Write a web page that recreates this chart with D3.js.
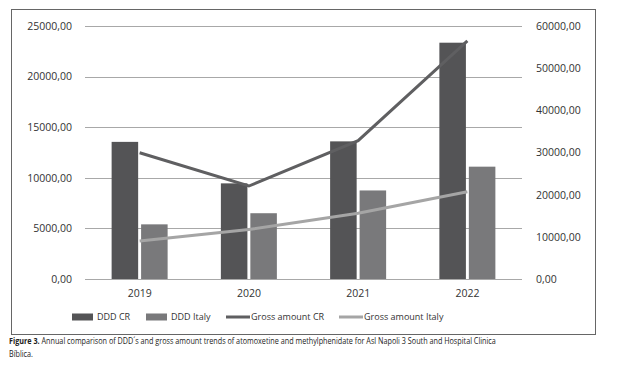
<!DOCTYPE html>
<html>
<head>
<meta charset="utf-8">
<script src="https://cdn.jsdelivr.net/npm/d3@7"></script>
<style>
  body { margin: 0; background: #fff; }
  text { font-family: "Open Sans", "DejaVu Sans", sans-serif; fill: #333; }
</style>
</head>
<body>
<svg width="619" height="370"></svg>
<script>
var years = ["2019", "2020", "2021", "2022"];
var dddCR = [13550, 9450, 13600, 23350];
var dddItaly = [5400, 6500, 8750, 11100];
var grossCR = [29950, 22050, 32800, 56450];
var grossItaly = [9000, 11750, 15600, 20700];
var leftTicks = [0, 5000, 10000, 15000, 20000, 25000];
var rightTicks = [0, 10000, 20000, 30000, 40000, 50000, 60000];

var svg = d3.select("svg"),
    margin = {top: 26, left: 85, right: 97, bottom: 91},
    width = 619 - margin.left - margin.right,
    height = 370 - margin.top - margin.bottom;

var fmt = function(d) { return d3.format(".2f")(d).replace(".", ","); };

// frame
svg.append("rect")
    .attr("x", 11.5).attr("y", 9.5)
    .attr("width", 584).attr("height", 325)
    .attr("fill", "none")
    .attr("stroke", "#666")
    .attr("stroke-width", 1);

var g = svg.append("g")
    .attr("transform", "translate(" + margin.left + "," + margin.top + ")");

var x = d3.scaleBand().domain(years).range([0, width]);
var x1 = d3.scaleBand().domain(["cr", "it"]).range([0, 56]).paddingInner(0.1);
var yL = d3.scaleLinear().domain([0, 25000]).range([height, 0]);
var yR = d3.scaleLinear().domain([0, 60000]).range([height, 0]);

// grid lines
g.append("g")
  .selectAll("line")
  .data(leftTicks)
  .enter().append("line")
    .attr("x1", 0).attr("x2", width)
    .attr("y1", function(d) { return Math.round(yL(d)) + 0.5; })
    .attr("y2", function(d) { return Math.round(yL(d)) + 0.5; })
    .attr("stroke", "#a8a8a8")
    .attr("stroke-width", 1);

// left axis
var axL = g.append("g")
    .attr("transform", "translate(-10,0)")
    .call(d3.axisLeft(yL).tickValues(leftTicks).tickFormat(fmt).tickSize(0));
axL.select(".domain").remove();
axL.selectAll("text").style("font-size", "10.5px").style("fill", "#333");

// right axis
var axR = g.append("g")
    .attr("transform", "translate(" + (width + 11) + ",0)")
    .call(d3.axisRight(yR).tickValues(rightTicks).tickFormat(fmt).tickSize(0));
axR.select(".domain").remove();
axR.selectAll("text").style("font-size", "10.5px").style("fill", "#333");

// x axis
var axX = g.append("g")
    .attr("transform", "translate(0," + (height + 8) + ")")
    .call(d3.axisBottom(x).tickSize(0));
axX.select(".domain").remove();
axX.selectAll("text").style("font-size", "10.5px").style("fill", "#333");

// bars
var groups = g.selectAll(".grp")
    .data(years)
    .enter().append("g")
    .attr("class", "grp")
    .attr("transform", function(d) { return "translate(" + (x(d) + x.bandwidth() / 2 - 28) + ",0)"; });

groups.append("rect")
    .attr("x", x1("cr"))
    .attr("width", x1.bandwidth())
    .attr("y", function(d, i) { return yL(dddCR[i]); })
    .attr("height", function(d, i) { return height - yL(dddCR[i]); })
    .attr("fill", "#545456");

groups.append("rect")
    .attr("x", x1("it"))
    .attr("width", x1.bandwidth())
    .attr("y", function(d, i) { return yL(dddItaly[i]); })
    .attr("height", function(d, i) { return height - yL(dddItaly[i]); })
    .attr("fill", "#79797b");

// lines
var line = d3.line()
    .x(function(d, i) { return x(years[i]) + x.bandwidth() / 2; })
    .y(function(d) { return yR(d); });

g.append("path")
    .datum(grossCR)
    .attr("d", line)
    .attr("fill", "none")
    .attr("stroke", "#5f5f61")
    .attr("stroke-width", 3);

g.append("path")
    .datum(grossItaly)
    .attr("d", line)
    .attr("fill", "none")
    .attr("stroke", "#a5a5a5")
    .attr("stroke-width", 3);

// legend
var legend = [
  {name: "DDD CR", color: "#545456", type: "bar", x: 72},
  {name: "DDD Italy", color: "#79797b", type: "bar", x: 146},
  {name: "Gross amount CR", color: "#5f5f61", type: "line", x: 226},
  {name: "Gross amount Italy", color: "#a5a5a5", type: "line", x: 339}
];
var lg = svg.append("g").selectAll("g")
    .data(legend)
    .enter().append("g")
    .attr("transform", function(d) { return "translate(" + d.x + ",317)"; });

lg.append("rect")
    .attr("x", 0)
    .attr("y", function(d) { return d.type == "bar" ? -3.5 : -1.5; })
    .attr("width", function(d) { return d.type == "bar" ? 21 : 24; })
    .attr("height", function(d) { return d.type == "bar" ? 7 : 3; })
    .attr("fill", function(d) { return d.color; });

lg.append("text")
    .attr("x", function(d) { return d.type == "bar" ? 25 : 25; })
    .attr("y", 0)
    .attr("dy", "0.35em")
    .style("font-size", "9px")
    .style("fill", "#333")
    .text(function(d) { return d.name; });

// caption (squeezed horizontally to mimic the condensed journal font)
var capG = svg.append("g").attr("transform", "translate(9,0)");
var cap = capG.append("text")
    .attr("x", 0).attr("y", 344.5)
    .style("font-size", "9.5px")
    .style("fill", "#222");
cap.append("tspan").style("font-weight", "bold").text("Figure 3.");
cap.append("tspan").text(" Annual comparison of DDD\u00b4s and gross amount trends of atomoxetine and methylphenidate for Asl Napoli 3 South and Hospital Clinica");
capG.append("text")
    .attr("x", 0).attr("y", 357)
    .style("font-size", "9.5px")
    .style("fill", "#222")
    .text("Bíblica.");
var natural = cap.node().getComputedTextLength();
capG.attr("transform", "translate(9,0) scale(" + (487 / natural) + ",1)");
</script>
</body>
</html>
